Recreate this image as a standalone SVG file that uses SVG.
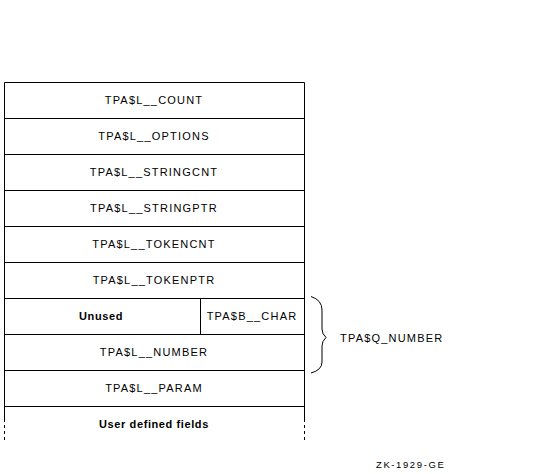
<svg xmlns="http://www.w3.org/2000/svg" width="540" height="474" viewBox="0 0 540 474">
<style>
.b{fill:none;stroke:#000;stroke-width:1}
.t{font-family:"Liberation Sans",Arial,sans-serif;font-size:11px;letter-spacing:1.2px;text-anchor:middle;fill:#000}
.w{font-weight:bold;letter-spacing:0.6px}
.s{font-family:"Liberation Sans",Arial,sans-serif;font-size:9.5px;letter-spacing:1.6px;fill:#000}
</style>
<rect width="540" height="474" fill="#fff"/>
<g id="frame">
<path class="b" d="M4.5 82.5H304.5M4.5 82.5V422M304.5 82.5V422"/>
<path class="b" d="M4.5 425V440M304.5 425V440" stroke-dasharray="3,3"/>
</g>
<g id="count"><path class="b" d="M4.5 118.5H304.5"/><text class="t" x="154" y="104">TPA$L__COUNT</text></g>
<g id="options"><path class="b" d="M4.5 154.5H304.5"/><text class="t" x="154" y="140">TPA$L__OPTIONS</text></g>
<g id="stringcnt"><path class="b" d="M4.5 190.5H304.5"/><text class="t" x="154" y="176">TPA$L__STRINGCNT</text></g>
<g id="stringptr"><path class="b" d="M4.5 226.5H304.5"/><text class="t" x="154" y="212">TPA$L__STRINGPTR</text></g>
<g id="tokencnt"><path class="b" d="M4.5 262.5H304.5"/><text class="t" x="154" y="248">TPA$L__TOKENCNT</text></g>
<g id="tokenptr"><path class="b" d="M4.5 298.5H304.5"/><text class="t" x="154" y="284">TPA$L__TOKENPTR</text></g>
<g id="unused"><path class="b" d="M4.5 334.5H304.5M200.5 298.5V334.5"/><text class="t w" x="101" y="320">Unused</text></g>
<g id="char"><text class="t" x="252" y="320">TPA$B__CHAR</text></g>
<g id="number"><path class="b" d="M4.5 370.5H304.5"/><text class="t" x="154" y="356">TPA$L__NUMBER</text></g>
<g id="param"><path class="b" d="M4.5 406.5H304.5"/><text class="t" x="154" y="392">TPA$L__PARAM</text></g>
<g id="user"><text class="t w" x="154" y="428">User defined fields</text></g>
<g id="brace">
<path class="b" d="M311 296.5Q322 300 322 310V329Q322 334 326 337.5Q322 341 322 346V362Q322 370 311 373"/>
<text class="t" x="340" y="342" style="text-anchor:start">TPA$Q_NUMBER</text>
</g>
<text class="s" x="376" y="468">ZK-1929-GE</text>
</svg>
